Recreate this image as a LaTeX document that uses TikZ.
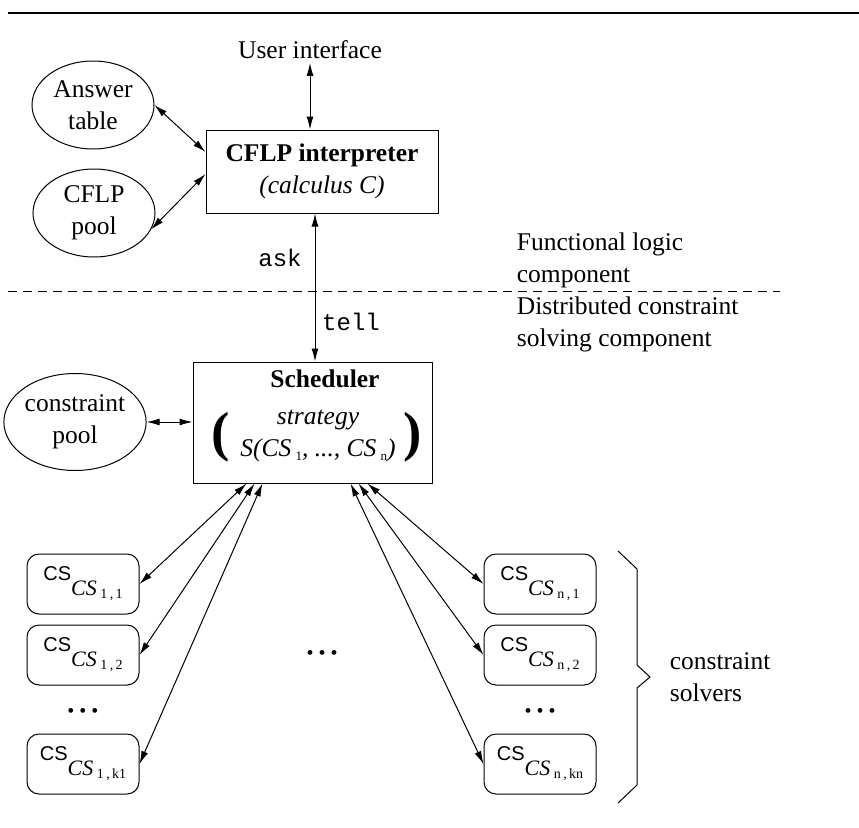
\documentclass[tikz,border=0pt]{standalone}
\usepackage{fontspec}
\setmainfont{Liberation Serif}
\setsansfont{Liberation Sans}
\setmonofont{Liberation Mono}
\usetikzlibrary{arrows.meta}
\usetikzlibrary{shapes.geometric}
\tikzset{both/.style = {{Latex[length=13pt,width=7pt]}-{Latex[length=13pt,width=7pt]}}}
\tikzset{pool/.style = {draw, ellipse, inner sep = 0, align = center}}
\tikzset{unit/.style = {draw, inner sep = 0, align = center}}
\tikzset{solver/.style = {draw, rounded corners = 12, inner sep = 0, minimum width = 112, minimum height = 60}}
\newcommand{\cssub}[2]{{\sffamily\fontsize{20}{20}\selectfont CS}\raisebox{-15pt}{\fontsize{22}{22}\selectfont\itshape CS\,\raisebox{-3pt}{\upshape\fontsize{14}{14}\selectfont #1\,,\,#2}}}
\newcommand{\dotrow}{{\fontsize{20}{20}\selectfont\textbullet\hspace{5pt}\textbullet\hspace{5pt}\textbullet}}

\begin{document}
\begin{tikzpicture}[x=1pt, y=-1pt, line width=1pt, font=\fontsize{25.5}{32}\selectfont]
    \useasboundingbox (0,0) rectangle (859,827);
    \draw [line width=2pt] (8,13) -- (859,13);

    \node (user) at (310,50) {User interface};
    \node [unit, minimum width=232, minimum height=83] (cflp) at (322,171.5) {\textbf{CFLP interpreter}\\\textit{(calculus C)}};
    \node [pool, minimum width=122, minimum height=88] (answer) at (93,105) {Answer\\table};
    \node [pool, minimum width=122, minimum height=88] (cflppool) at (94,213) {CFLP\\pool};
    \draw [both] (user) -- (user |- cflp.north);
    \draw [both] (answer.east) -- ([yshift=19.5pt]cflp.west);
    \draw [both] (cflppool.-16) -- ([yshift=-2.5pt]cflp.west);

    \draw [dash pattern=on 9pt off 6pt] (8,291) -- (780,291);
    \coordinate (link) at (315,291);
    \node (ask) at (280,258) {\ttfamily\fontsize{24}{24}\selectfont ask};
    \node (tell) at (351,322) {\ttfamily\fontsize{24}{24}\selectfont tell};
    \node [anchor=west, align=left] (funct) at (513,260) {Functional logic\\component};
    \node [anchor=west, align=left] (distr) at (513,324) {Distributed constraint\\solving component};

    \node [unit, minimum width=239, minimum height=121] (sched) at (312.5,422.5) {};
    \node (schedname) at (325,379) {\textbf{Scheduler}};
    \node (strat) at (318,420) {\textit{strategy}};
    \node (sfun) at (318,450) {\textit{S(CS}\,\raisebox{-4pt}{\fontsize{13}{13}\selectfont 1}\textit{, ..., CS}\,\raisebox{-4pt}{\fontsize{13}{13}\selectfont n}\textit{)}};
    \node [font=\fontsize{55}{55}\selectfont\bfseries] (lpar) at (221,437) {(};
    \node [font=\fontsize{55}{55}\selectfont\bfseries] (rpar) at (413,437) {)};
    \draw [both] (link |- cflp.south) -- (link |- sched.north);
    \node [pool, minimum width=123, minimum height=97] (cpool) at (75,422) {constraint\\pool};
    \draw [both] (cpool.east) -- (cpool.east -| sched.west);

    \node [solver] (l1) at (83,584) {\cssub{1}{1}};
    \node [solver] (l2) at (83,655) {\cssub{1}{2}};
    \node (ldots) at (83,713) {\dotrow};
    \node [solver] (l3) at (83,764) {\cssub{1}{k1}};
    \node [solver] (r1) at (540,584) {\cssub{n}{1}};
    \node [solver] (r2) at (540,655) {\cssub{n}{2}};
    \node (rdots) at (540,713) {\dotrow};
    \node [solver] (r3) at (540,764) {\cssub{n}{kn}};
    \node (mdots) at (322,655) {\dotrow};
    \foreach \i/\dx in {1/-66, 2/-58, 3/-50}
      \draw [both] ([xshift=\dx]sched.south) -- (l\i.east);
    \foreach \i/\dx in {1/55, 2/46, 3/38}
      \draw [both] ([xshift=\dx]sched.south) -- (r\i.west);

    \draw (618,551) -- (637,569) -- (637,665) -- (650,677) -- (637,688) -- (637,785) -- (618,803);
    \node [anchor=west, align=left] (solvers) at (666,677) {constraint\\solvers};
  \end{tikzpicture}
\end{document}
